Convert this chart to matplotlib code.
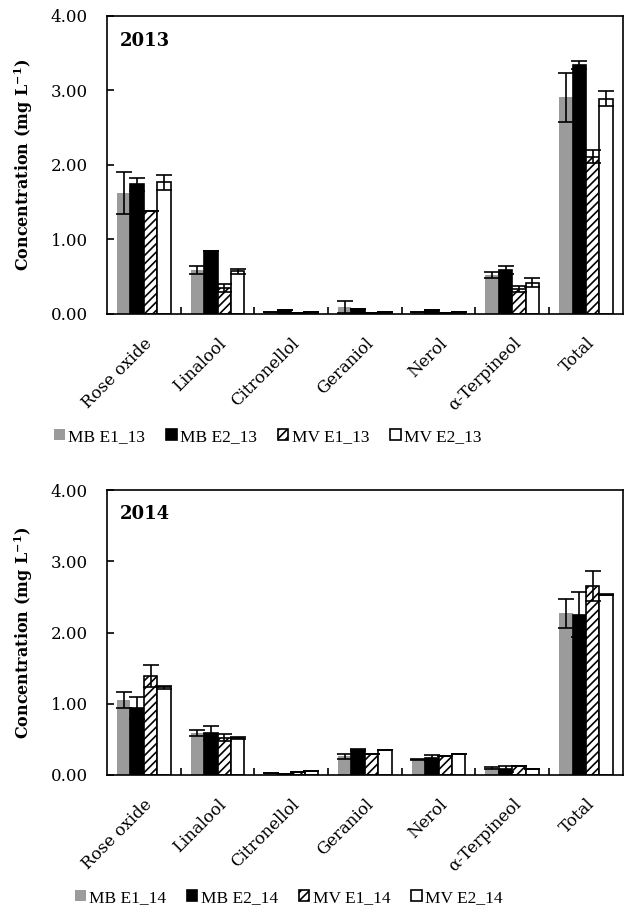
import matplotlib
matplotlib.use("Agg")
import matplotlib.pyplot as plt
import numpy as np

plt.rcParams['font.family'] = ['DejaVu Serif']
plt.rcParams['hatch.linewidth'] = 1.2

compounds = ['Rose oxide', 'Linalool', 'Citronellol', 'Geraniol', 'Nerol',
             'α-Terpineol', 'Total']

# 2013 means and standard deviations (mg/L)
mb_e1_13 = [1.62, 0.59, 0.03, 0.09, 0.03, 0.52, 2.91]
mb_e2_13 = [1.74, 0.85, 0.05, 0.06, 0.05, 0.59, 3.34]
mv_e1_13 = [1.38, 0.35, 0.01, 0.01, 0.01, 0.33, 2.11]
mv_e2_13 = [1.77, 0.57, 0.03, 0.03, 0.03, 0.42, 2.89]
mb_e1_13_sd = [0.28, 0.06, 0.00, 0.08, 0.00, 0.04, 0.33]
mb_e2_13_sd = [0.09, 0.00, 0.00, 0.00, 0.00, 0.05, 0.05]
mv_e1_13_sd = [0.00, 0.05, 0.00, 0.00, 0.00, 0.04, 0.09]
mv_e2_13_sd = [0.10, 0.03, 0.00, 0.00, 0.00, 0.06, 0.10]

# 2014 means and standard deviations (mg/L)
mb_e1_14 = [1.05, 0.59, 0.03, 0.26, 0.22, 0.10, 2.27]
mb_e2_14 = [0.94, 0.59, 0.02, 0.35, 0.24, 0.08, 2.25]
mv_e1_14 = [1.39, 0.52, 0.04, 0.29, 0.27, 0.12, 2.65]
mv_e2_14 = [1.23, 0.52, 0.05, 0.35, 0.29, 0.08, 2.53]
mb_e1_14_sd = [0.11, 0.04, 0.00, 0.03, 0.01, 0.01, 0.20]
mb_e2_14_sd = [0.16, 0.10, 0.00, 0.02, 0.04, 0.04, 0.32]
mv_e1_14_sd = [0.16, 0.05, 0.00, 0.00, 0.00, 0.00, 0.21]
mv_e2_14_sd = [0.02, 0.01, 0.00, 0.00, 0.00, 0.00, 0.01]

styles = [
    dict(color='#9b9b9b', edgecolor='#9b9b9b', linewidth=0),
    dict(color='black', edgecolor='black', linewidth=1.2),
    dict(color='white', edgecolor='black', linewidth=1.2, hatch='////'),
    dict(color='white', edgecolor='black', linewidth=1.2),
]

fig = plt.figure(figsize=(6.24, 9.18), dpi=100)
ax1 = fig.add_axes([0.1715, 0.658, 0.8265, 0.3246])
ax2 = fig.add_axes([0.1715, 0.1558, 0.8265, 0.3104])


def draw_panel(ax, year, series, errs, labels):
    x = np.arange(len(compounds))
    w = 0.182
    handles = []
    for i, (vals, sd, st, lab) in enumerate(zip(series, errs, styles, labels)):
        pos = x + (i - 1.5) * w
        b = ax.bar(pos, vals, width=w, label=lab, zorder=2, **st)
        ax.errorbar(pos, vals, yerr=sd, fmt='none', ecolor='black',
                    elinewidth=1.2, capsize=6, capthick=1.2, zorder=3)
        handles.append(b)
    ax.set_xlim(-0.5, len(compounds) - 0.5)
    ax.set_ylim(0, 4)
    ax.set_yticks([0, 1, 2, 3, 4])
    ax.set_yticklabels([f'{v:.2f}' for v in [0, 1, 2, 3, 4]], fontsize=12)
    ax.set_xticks(x)
    ax.set_xticklabels(compounds, rotation=45, ha='right', rotation_mode='anchor',
                       fontsize=12)
    ax.set_xticks(np.arange(0.5, len(compounds) - 1, 1), minor=True)
    ax.tick_params(axis='x', which='major', length=0, pad=15)
    ax.tick_params(axis='x', which='minor', direction='in', length=5, width=1.2)
    ax.tick_params(axis='y', direction='in', length=5, width=1.2, pad=14)
    for s in ax.spines.values():
        s.set_linewidth(1.2)
    ax.set_ylabel('Concentration (mg L$^{\\mathregular{-1}}$)', fontsize=11.5,
                  fontweight='bold', labelpad=11)
    ax.text(0.025, 0.915, year, transform=ax.transAxes, fontsize=13,
            fontweight='bold', va='center', ha='left')
    return handles


h1 = draw_panel(ax1, '2013', [mb_e1_13, mb_e2_13, mv_e1_13, mv_e2_13],
                [mb_e1_13_sd, mb_e2_13_sd, mv_e1_13_sd, mv_e2_13_sd],
                ['MB E1_13', 'MB E2_13', 'MV E1_13', 'MV E2_13'])
h2 = draw_panel(ax2, '2014', [mb_e1_14, mb_e2_14, mv_e1_14, mv_e2_14],
                [mb_e1_14_sd, mb_e2_14_sd, mv_e1_14_sd, mv_e2_14_sd],
                ['MB E1_14', 'MB E2_14', 'MV E1_14', 'MV E2_14'])

legend_kw = dict(ncol=4, frameon=False, handlelength=0.6,
                 handleheight=0.6, handletextpad=0.2, columnspacing=1.2,
                 prop={'family': 'Liberation Serif', 'size': 12.5})
fig.legend(h1, ['MB E1_13', 'MB E2_13', 'MV E1_13', 'MV E2_13'],
           loc='center', bbox_to_anchor=(268 / 624, 1 - 437 / 918), **legend_kw)
fig.legend(h2, ['MB E1_14', 'MB E2_14', 'MV E1_14', 'MV E2_14'],
           loc='center', bbox_to_anchor=(289 / 624, 1 - 898 / 918), **legend_kw)

fig.savefig('out.png', dpi=100)
